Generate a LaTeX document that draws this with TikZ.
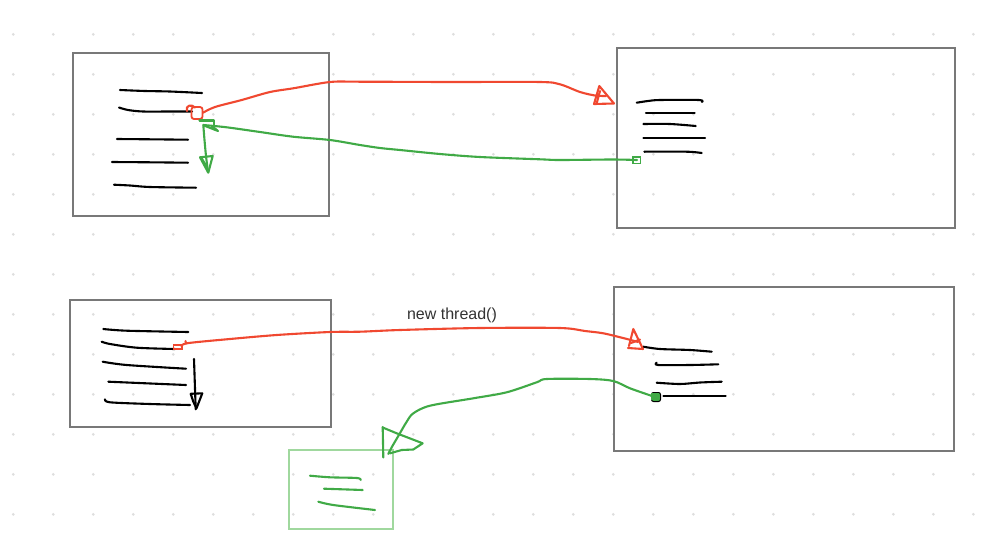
\documentclass[tikz,border=0pt]{standalone}
\usepackage{fontspec}
\setmainfont{Liberation Sans}
\begin{document}
\definecolor{inkred}{RGB}{240,72,48}
\definecolor{inkgreen}{RGB}{64,170,70}
\definecolor{palegreen}{RGB}{160,216,158}
\definecolor{framegray}{RGB}{120,120,120}
\definecolor{dotgray}{RGB}{222,222,222}
\definecolor{labelgray}{RGB}{51,51,51}
\begin{tikzpicture}[x=1pt,y=-1pt,
  frame/.style={draw=framegray,line width=1.3pt,inner sep=0pt,outer sep=0pt},
  subframe/.style={draw=palegreen,line width=1.3pt,inner sep=0pt,outer sep=0pt},
  pen/.style={line width=2.1pt,line cap=round,line join=round},
  blackpen/.style={pen,draw=black},
  redpen/.style={pen,draw=inkred},
  greenpen/.style={pen,draw=inkgreen},
  lbl/.style={text=labelgray,font=\fontsize{16}{19}\selectfont,inner sep=0pt}]
\useasboundingbox (0,0) rectangle (985,552);
\fill[white] (0,0) rectangle (985,552);
% dotted canvas grid
\foreach \i in {0,...,24}
  \foreach \j in {0,...,12}
    \fill[dotgray] (13.3+40*\i,34.3+40*\j) circle (1.5);

% frames
\node[frame,minimum width=256pt,minimum height=163pt] (mainA) at (201,134.5) {};
\node[frame,minimum width=338pt,minimum height=180pt] (funcA) at (786,138) {};
\node[frame,minimum width=261pt,minimum height=127pt] (mainB) at (200.5,363.5) {};
\node[frame,minimum width=340pt,minimum height=164pt] (funcB) at (784,369) {};
\node[subframe,minimum width=104pt,minimum height=79pt] (cbB) at (341,489.5) {};

\node[lbl] (nt) at (452,315) {new thread()};

% code lines, upper caller
\draw[blackpen] plot[smooth] coordinates {(120,90) (145,91) (170,91.5) (202,93)};
\draw[blackpen] plot[smooth] coordinates {(119,107.5) (128,110) (143,111.5) (170,111.5) (192,111.5)};
\draw[blackpen] plot[smooth] coordinates {(117,139) (150,139.3) (188,139.7)};
\draw[blackpen] plot[smooth] coordinates {(112,162) (150,162.3) (188,162.7)};
\draw[blackpen] plot[smooth] coordinates {(114,184.7) (130,185.5) (150,187) (196,187.7)};

% code lines, upper callee
\draw[blackpen] plot[smooth] coordinates {(636.7,102.7) (648,101) (660,100) (699,100) (702,102)};
\draw[blackpen] plot[smooth] coordinates {(646,112.7) (694.7,112.7)};
\draw[blackpen] plot[smooth] coordinates {(643.3,124) (670,124) (695.7,126)};
\draw[blackpen] plot[smooth] coordinates {(643.3,137.7) (705,137.7)};
\draw[blackpen] plot[smooth] coordinates {(644.3,151.7) (686.7,151.7) (701.7,153)};

% code lines, lower caller
\draw[blackpen] plot[smooth] coordinates {(103.3,329) (126.7,330.7) (188.3,332)};
\draw[blackpen] plot[smooth] coordinates {(101.7,341.7) (110,344) (136.7,347.7) (175,349)};
\draw[blackpen] plot[smooth] coordinates {(102.7,361.7) (126.7,365) (186,368.7)};
\draw[blackpen] plot[smooth] coordinates {(108.3,381.7) (186,385)};
\draw[blackpen] plot[smooth] coordinates {(105,399.3) (110,402.3) (150,404) (190,405)};

% code lines, lower thread body
\draw[blackpen] plot[smooth] coordinates {(643.3,346.7) (660,349) (690,350) (711.7,351.7)};
\draw[blackpen] plot[smooth] coordinates {(656.7,362.7) (658,365) (690,365) (718.3,364.3)};
\draw[blackpen] plot[smooth] coordinates {(656.7,382.7) (680,384) (700,382.5) (721.7,381.7)};
\draw[blackpen] plot[smooth] coordinates {(663.3,396) (725.7,396)};

% code lines, callback box
\draw[greenpen] plot[smooth] coordinates {(310,475.7) (330,477.3) (357,478) (360.7,480)};
\draw[greenpen] plot[smooth] coordinates {(324,488.7) (362.7,490)};
\draw[greenpen] plot[smooth] coordinates {(318.3,501.7) (333.3,505) (375,510)};

% anchor points of the connectors
\coordinate (callA) at (203,112.7);
\coordinate (enterA) at (606,96);
\coordinate (retA) at (637,160);
\coordinate (backA) at (203.3,125);
\coordinate (nextA) at (208,172);
\coordinate (callB) at (181.7,346.7);
\coordinate (enterB) at (638,342);
\coordinate (doneB) at (655,397);
\coordinate (cbIn) at (388.3,454);
\coordinate (runB) at (194,359);
\coordinate (nextB) at (195.7,409.3);

% synchronous call (red)
\draw[inkred,line width=1.8pt,rounded corners=2.5pt] (191.5,107) rectangle (202.5,119);
\draw[redpen] (187,111) .. controls (185,105) and (192,104) .. (195,107.5);
\draw[redpen] plot[smooth] coordinates {(callA) (215,107) (241.7,100) (270,92) (293.3,88.3) (330,82) (360,81.7) (450,82) (540,82) (560,84.3) (580,92) (595,95.5) (enterA)};
\draw[redpen] (594,104) -- (599.3,86) -- (614,103.5) -- cycle;
\draw[redpen] (600,91) -- (596.5,104);

% return of the call (green)
\draw[inkgreen,line width=1.7pt] (632.7,156.7) rectangle (640.5,163.5);
\draw[greenpen] plot[smooth] coordinates {(retA) (612,159.5) (560,160) (540,159.3) (480,157) (440,154) (400,150) (380,148) (360,145) (330,140) (293,136.7) (260,132) (226.7,127.3) (backA)};
\draw[greenpen] (199.5,120.5) -- (214,120.5) -- (214,125);
\draw[greenpen] (204,125.5) -- (218,131) -- (212,126);
\draw[greenpen] plot[smooth] coordinates {(backA) (204.5,140) (206,156) (nextA)};
\draw[greenpen] (200,157.3) -- (212.7,156) -- (208.3,172.7) -- cycle;
\draw[greenpen] (201.7,158.3) -- (206.7,166.7);

% thread start (red)
\draw[inkred,line width=1.6pt] (173.3,345) rectangle (181.7,349);
\draw[redpen] (185.5,341) -- (186,343.5);
\draw[redpen] plot[smooth] coordinates {(callB) (186.7,343.3) (226.7,339.3) (276.7,335) (330,332) (360,331.7) (400,330) (480,328) (560,328) (585,331) (603.3,333.3) (625,338.5) (enterB)};
\draw[redpen] (629,346) -- (633.3,329) -- (643,349) -- (628,348);
\draw[redpen] (631,343) -- (640,339.5);

% caller continues without waiting
\draw[blackpen] (runB) -- (nextB);
\draw[blackpen] (190.7,393.8) -- (202.3,393.3) -- (196.5,408.3) -- (193.3,401.7) -- cycle;

% callback once the thread ends (green)
\draw[greenpen] plot[smooth] coordinates {(doneB) (630,388.3) (613.3,381) (590,379) (546.7,379) (536.7,382.3) (506.7,392.3) (473.3,398.3) (430,405.7) (413.3,413.3) (406.7,421.7) (398.3,436) (391.7,447.3) (cbIn)};
\draw[greenpen] (382.7,427) -- (383.3,457.5);
\draw[greenpen] (382.7,427.5) -- (396.7,433.3) -- (422.7,443.3) -- (413.3,449.5) -- (401.7,450) -- (390,453.3);
\filldraw[fill=inkgreen,draw=black,line width=1pt,rounded corners=2pt] (651.5,392.5) rectangle (660.5,401.5);
\fill[inkgreen] (651.3,393) rectangle (658.5,399.5);
\end{tikzpicture}
\end{document}
